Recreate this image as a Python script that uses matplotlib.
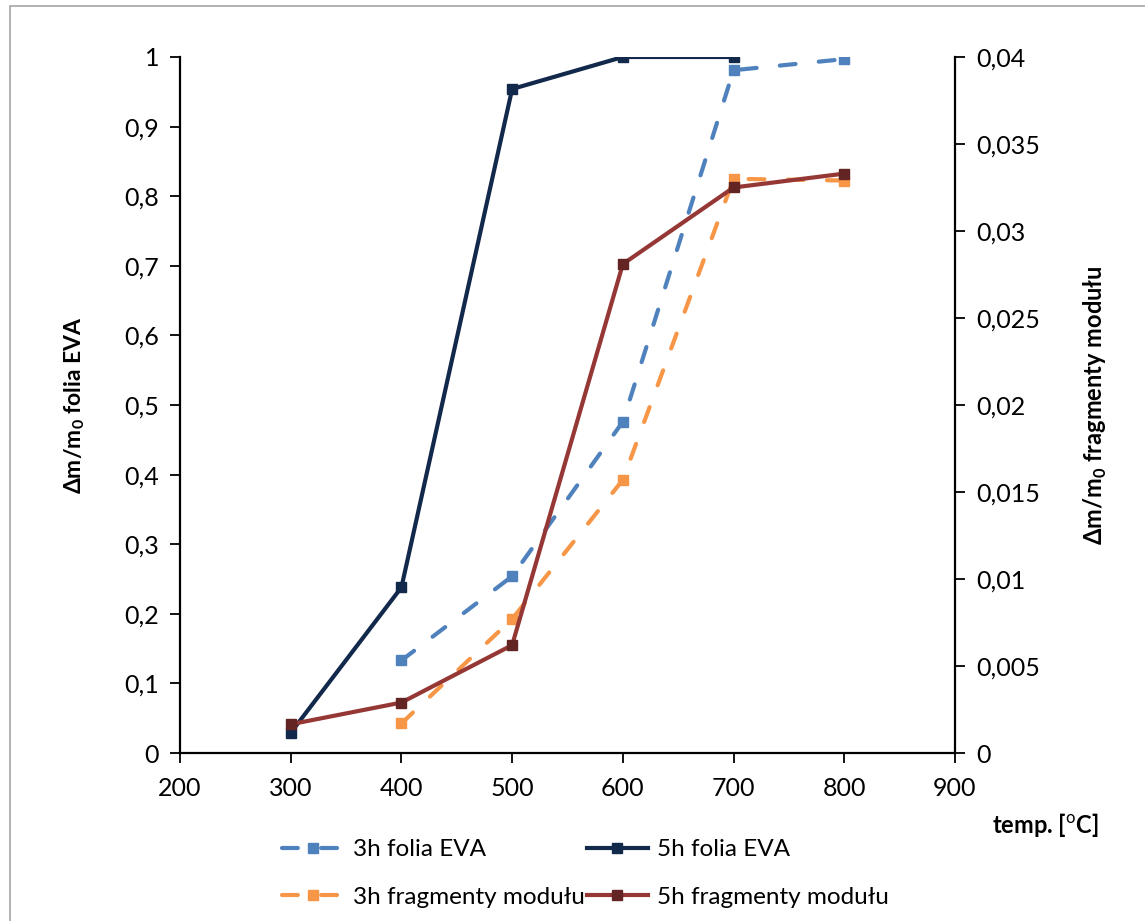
import matplotlib
matplotlib.use('Agg')
from matplotlib import pyplot as plt
from matplotlib.patches import Rectangle

# dane
temp_all = [300, 400, 500, 600, 700, 800]
temp_3h = [400, 500, 600, 700, 800]
temp_5h_eva = [300, 400, 500, 600, 700]

eva_3h = [0.133, 0.254, 0.476, 0.981, 0.997]
eva_5h = [0.029, 0.238, 0.954, 1.0, 1.0]
frag_3h = [0.0017, 0.0077, 0.0157, 0.0330, 0.0329]
frag_5h = [0.00165, 0.0029, 0.0062, 0.0281, 0.0325, 0.0333]

left_ticks = [0, 0.1, 0.2, 0.3, 0.4, 0.5, 0.6, 0.7, 0.8, 0.9, 1]
right_ticks = [0, 0.005, 0.01, 0.015, 0.02, 0.025, 0.03, 0.035, 0.04]
x_ticks = [200, 300, 400, 500, 600, 700, 800, 900]

plt.rcParams['font.family'] = ['Lato', 'DejaVu Sans']
plt.rcParams['mathtext.fontset'] = 'custom'
plt.rcParams['mathtext.rm'] = 'Lato'
plt.rcParams['mathtext.bf'] = 'Lato:bold'

c_eva3 = '#4f81bd'
c_eva5 = '#13294b'
c_frag3 = '#f79646'
c_frag5 = '#953735'

fig = plt.figure(figsize=(11.45, 9.21), dpi=100)
# ramka obszaru wykresu (jak w Excelu)
fig.patches.append(Rectangle((10 / 1145, -0.1), 1.2, 1 - 6 / 921 + 0.1,
                             transform=fig.transFigure, fill=False,
                             edgecolor='#a6a6a6', linewidth=1.2))

ax = fig.add_axes([180 / 1145, 1 - 753 / 921, 775 / 1145, 696 / 921])
ax2 = ax.twinx()

dash = (0, (3.8, 5.6))
lw = 3.0
ms = 6.5

l1, = ax.plot(temp_3h, eva_3h, color=c_eva3, lw=lw, ls=dash,
              dash_capstyle='round', marker='s', ms=ms, label='3h folia EVA')
l2, = ax.plot(temp_5h_eva, eva_5h, color=c_eva5, lw=lw, marker='s', ms=ms,
              label='5h folia EVA')
l3, = ax2.plot(temp_3h, frag_3h, color=c_frag3, lw=lw, ls=dash,
               dash_capstyle='round', marker='s', ms=ms,
               label='3h fragmenty modułu')
l4, = ax2.plot(temp_all, frag_5h, color=c_frag5, lw=lw, marker='s', ms=ms,
               mfc='#632523', mec='#632523', label='5h fragmenty modułu')

ax.set_xlim(200, 900)
ax.set_ylim(0, 1)
ax2.set_ylim(0, 0.04)
ax.set_xticks(x_ticks)
ax.set_yticks(left_ticks)
ax2.set_yticks(right_ticks)
ax.set_yticklabels([('%g' % v).replace('.', ',') for v in left_ticks])
ax2.set_yticklabels([('%g' % v).replace('.', ',') for v in right_ticks])

for a in (ax, ax2):
    a.spines['top'].set_visible(False)
    for s in a.spines.values():
        s.set_linewidth(1.6)
    a.tick_params(direction='out', length=7, width=1.3, labelsize=18, pad=8)
ax.spines['right'].set_visible(False)
ax2.spines['left'].set_visible(False)
ax2.spines['bottom'].set_visible(False)
ax.tick_params(axis='x', pad=10)

ax.set_ylabel('Δm/m$_\\mathbf{0}$ folia EVA', fontsize=16.5, fontweight='bold')
ax.yaxis.set_label_coords(-(180 - 87) / 775, 0.5)
ax2.set_ylabel('Δm/m$_\\mathbf{0}$ fragmenty modułu', fontsize=17,
               fontweight='bold', rotation=90)
ax2.yaxis.set_label_coords((1082 - 180) / 775, 0.5)

fig.text(1045 / 1145, 1 - 825 / 921, 'temp. [$^\\mathrm{o}$C]', fontsize=17,
         fontweight='bold', ha='center', va='center')

fig.legend(handles=[l1, l3, l2, l4], ncol=2, frameon=False,
           loc='upper left', bbox_to_anchor=(270 / 1145, 1 - 827 / 921),
           fontsize=17.5, handlelength=2.5, handletextpad=0.4,
           columnspacing=0.1, labelspacing=1.1, borderpad=0)

plt.savefig('out.png', dpi=100)
